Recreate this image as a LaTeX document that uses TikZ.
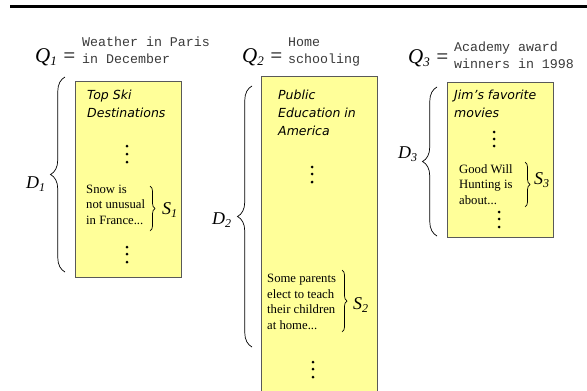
\documentclass[tikz,border=0pt]{standalone}
\usepackage{fontspec}
\setmainfont{Liberation Serif}
\setmonofont{Liberation Mono}
\newfontfamily\titlefont{DejaVu Sans}[ItalicFont={DejaVu Sans Oblique}]
\usetikzlibrary{decorations.pathreplacing}
\definecolor{docyellow}{HTML}{FFFF99}
\definecolor{docedge}{HTML}{595959}
\definecolor{querygray}{HTML}{3A3A3A}
\newcommand{\lowidx}[2]{\raisebox{-3pt}{\fontsize{#1}{#1}\selectfont #2}}

\tikzset{
  docbox/.style={draw=docedge, line width=0.8pt, fill=docyellow, inner sep=0pt, anchor=north west},
  doctitle/.style={inner sep=0pt, anchor=base west, align=left, font=\titlefont\itshape\fontsize{12.5}{18}\selectfont},
  doctext/.style={inner sep=0pt, anchor=base west, align=left, font=\fontsize{12.7}{15.5}\selectfont},
  querytext/.style={inner sep=0pt, anchor=base west, align=left, text=querygray, font=\ttfamily\fontsize{13.3}{17}\selectfont},
  qlabel/.style={inner sep=0pt, anchor=base west, font=\itshape\fontsize{21}{21}\selectfont},
  dlabel/.style={inner sep=0pt, anchor=base west, font=\itshape\fontsize{18}{18}\selectfont},
  bigbrace/.style={decorate, decoration={brace, amplitude=14.5pt}, line width=0.7pt},
  smallbrace/.style={decorate, decoration={brace, amplitude=5pt}, line width=0.7pt},
}

\begin{document}
\begin{tikzpicture}[x=1pt, y=-1pt]
        \useasboundingbox (0,0) rectangle (587,391);
        \clip (0,0) rectangle (587,391);
        \draw[line width=3pt] (10,6) -- (587,6);

        % queries
        \node[qlabel] (q1) at (35,62) {Q\lowidx{13}{1} =};
        \node[querytext] (query1) at (82,63) {Weather in Paris\\in December};
        \node[qlabel] (q2) at (242,62) {Q\lowidx{13}{2} =};
        \node[querytext] (query2) at (288,63) {Home\\schooling};
        \node[qlabel] (q3) at (408,63) {Q\lowidx{13}{3} =};
        \node[querytext] (query3) at (454,68) {Academy award\\winners in 1998};

        % documents
        \node[docbox, minimum width=106, minimum height=196] (doc1) at (75,81) {};
        \node[docbox, minimum width=116, minimum height=330] (doc2) at (261,76) {};
        \node[docbox, minimum width=106, minimum height=155] (doc3) at (447,82) {};

        \node[doctitle] (title1) at (87,117) {Top Ski\\Destinations};
        \node[doctitle] (title2) at (278,135) {Public\\Education in\\America};
        \node[doctitle] (title3) at (454,117) {Jim’s favorite\\movies};

        \node[doctext] (pass1) at (86,224) {Snow is\\not unusual\\in France...};
        \node[doctext] (pass2) at (267,329) {Some parents\\elect to teach\\their children\\at home...};
        \node[doctext] (pass3) at (459,204) {Good Will\\Hunting is\\about...};

        \fill (127,146) circle (1.5);
        \fill (127,154) circle (1.5);
        \fill (127,162) circle (1.5);
        \fill (127,247) circle (1.5);
        \fill (127,254) circle (1.5);
        \fill (127,262) circle (1.5);
        \fill (312,167) circle (1.5);
        \fill (312,174) circle (1.5);
        \fill (312,182) circle (1.5);
        \fill (313,362) circle (1.5);
        \fill (313,369) circle (1.5);
        \fill (313,377) circle (1.5);
        \fill (494,132) circle (1.5);
        \fill (494,139) circle (1.5);
        \fill (494,146) circle (1.5);
        \fill (499,212) circle (1.5);
        \fill (499,219) circle (1.5);
        \fill (499,227) circle (1.5);

        % braces
        \coordinate (d1top) at (65,77);
        \coordinate (d1bot) at (65,272);
        \coordinate (d2top) at (252,86);
        \coordinate (d2bot) at (252,347);
        \coordinate (d3top) at (437,87);
        \coordinate (d3bot) at (437,236);
        \coordinate (s1top) at (150,186);
        \coordinate (s1bot) at (150,231);
        \coordinate (s2top) at (342,270);
        \coordinate (s2bot) at (342,332);
        \coordinate (s3top) at (525,162);
        \coordinate (s3bot) at (525,207);

        \draw[bigbrace] (d1bot) -- (d1top);
        \draw[bigbrace] (d2bot) -- (d2top);
        \draw[bigbrace] (d3bot) -- (d3top);
        \draw[smallbrace] (s1top) -- (s1bot);
        \draw[smallbrace] (s2top) -- (s2bot);
        \draw[smallbrace] (s3top) -- (s3bot);

        \node[dlabel] (d1) at (26,188) {D\lowidx{12}{1}};
        \node[dlabel] (d2) at (212,224) {D\lowidx{12}{2}};
        \node[dlabel] (d3) at (398,158) {D\lowidx{12}{3}};
        \node[dlabel] (s1) at (162,214) {S\lowidx{12}{1}};
        \node[dlabel] (s2) at (353,309) {S\lowidx{12}{2}};
        \node[dlabel] (s3) at (534,184) {S\lowidx{12}{3}};
\end{tikzpicture}
\end{document}
